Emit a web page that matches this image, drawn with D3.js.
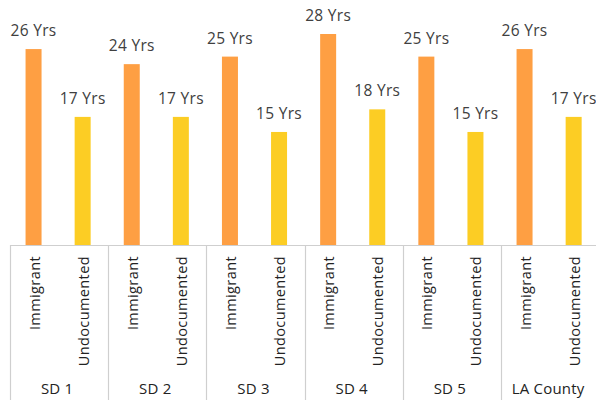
<!DOCTYPE html>
<html>
<head>
<meta charset="utf-8">
<script src="https://cdn.jsdelivr.net/npm/d3@7"></script>
<style>
  html, body { margin: 0; padding: 0; background: #fff; }
  svg { display: block; font-family: "Century Gothic", "Open Sans", sans-serif; }
</style>
</head>
<body>
<svg id="chart" width="596" height="400"></svg>
<script>
// Median years in the US, by supervisorial district
const districts = ["SD 1", "SD 2", "SD 3", "SD 4", "SD 5", "LA County"];
const groups = ["Immigrant", "Undocumented"];
const immigrantYears = [26, 24, 25, 28, 25, 26];
const undocumentedYears = [17, 17, 15, 18, 15, 17];
const valueSuffix = " Yrs";

const colors = { Immigrant: "#FE9F43", Undocumented: "#FCCD24" };

const svg = d3.select("#chart");
const baseY = 245;
const left = 10, step = 98.2;

const x0 = d3.scaleBand().domain(districts)
  .range([left, left + step * districts.length]).paddingInner(0).paddingOuter(0);
const x1 = d3.scaleBand().domain(groups).range([0, x0.bandwidth()]);
const y = d3.scaleLinear().domain([0, 28]).range([baseY, 34]);

const barW = 16;

const rows = districts.map((d, i) => ({
  district: d,
  values: [
    { group: "Immigrant", v: immigrantYears[i] },
    { group: "Undocumented", v: undocumentedYears[i] }
  ]
}));

const g = svg.selectAll("g.district").data(rows).join("g")
  .attr("class", "district")
  .attr("transform", d => `translate(${x0(d.district)},0)`);

const cells = g.selectAll("g.cell").data(d => d.values).join("g")
  .attr("class", "cell")
  .attr("transform", d => `translate(${x1(d.group) + x1.bandwidth() / 2 - 1},0)`);

cells.append("rect")
  .attr("x", -barW / 2)
  .attr("y", d => y(d.v))
  .attr("width", barW)
  .attr("height", d => baseY - y(d.v))
  .attr("fill", d => colors[d.group]);

cells.append("text")
  .attr("x", 0)
  .attr("y", d => y(d.v) - 13)
  .attr("text-anchor", "middle")
  .attr("font-size", 15.5)
  .attr("letter-spacing", 0.3)
  .attr("fill", "#404040")
  .text(d => d.v + valueSuffix);

// rotated category labels
cells.append("text")
  .attr("transform", "translate(6,256) rotate(-90)")
  .attr("text-anchor", "end")
  .attr("font-size", 14.5)
  .attr("letter-spacing", 0.4)
  .attr("fill", "#222")
  .text(d => d.group);

// district labels
g.append("text")
  .attr("x", x0.bandwidth() / 2 - 2)
  .attr("y", 394)
  .attr("text-anchor", "middle")
  .attr("font-size", 15)
  .attr("letter-spacing", 0.2)
  .attr("fill", "#222")
  .text(d => d.district);

// axis line and separators
svg.append("line")
  .attr("x1", left).attr("x2", 596)
  .attr("y1", baseY + 0.5).attr("y2", baseY + 0.5)
  .attr("stroke", "#cfcfcf").attr("stroke-width", 1.2);

svg.selectAll("line.sep").data(districts.concat(["end"])).join("line")
  .attr("class", "sep")
  .attr("x1", (d, i) => Math.round(left + step * i) + 0.5)
  .attr("x2", (d, i) => Math.round(left + step * i) + 0.5)
  .attr("y1", baseY).attr("y2", 400)
  .attr("stroke", "#cfcfcf").attr("stroke-width", 1.2);
</script>
</body>
</html>
